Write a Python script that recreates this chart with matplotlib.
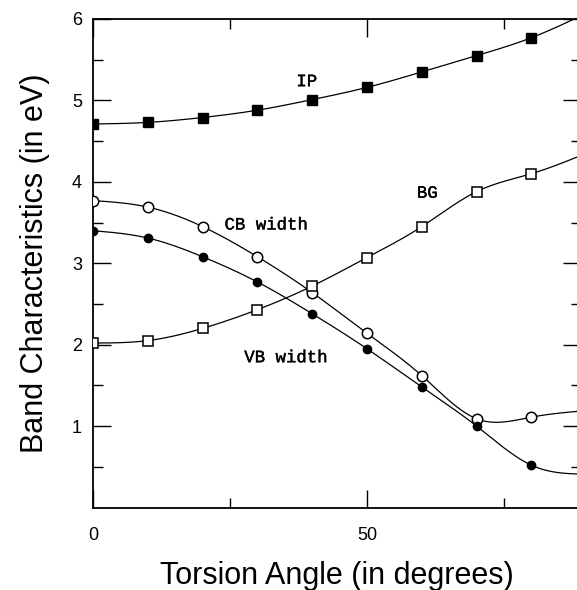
import matplotlib.pyplot as plt
import matplotlib.patheffects as pe
import numpy as np

# torsion angles (deg) and band characteristics (eV)
angle = [0, 10, 20, 30, 40, 50, 60, 70, 80, 90]
ip = [4.71, 4.73, 4.79, 4.88, 5.01, 5.16, 5.35, 5.55, 5.77, 6.07]
cb_width = [3.77, 3.69, 3.45, 3.08, 2.64, 2.14, 1.62, 1.09, 1.11, 1.19]
vb_width = [3.40, 3.31, 3.08, 2.77, 2.38, 1.95, 1.48, 1.00, 0.52, 0.41]
bg = [2.02, 2.05, 2.20, 2.43, 2.72, 3.07, 3.45, 3.88, 4.10, 4.35]


def spline(x, y, n=400):
    # natural cubic spline through the data points
    x = np.asarray(x, float)
    y = np.asarray(y, float)
    h = np.diff(x)
    m = len(x)
    A = np.zeros((m, m))
    r = np.zeros(m)
    A[0, 0] = A[-1, -1] = 1
    for i in range(1, m - 1):
        A[i, i - 1] = h[i - 1]
        A[i, i] = 2 * (h[i - 1] + h[i])
        A[i, i + 1] = h[i]
        r[i] = 6 * ((y[i + 1] - y[i]) / h[i] - (y[i] - y[i - 1]) / h[i - 1])
    M = np.linalg.solve(A, r)
    xs = np.linspace(x[0], x[-1], n)
    k = np.clip(np.searchsorted(x, xs) - 1, 0, m - 2)
    t0 = x[k + 1] - xs
    t1 = xs - x[k]
    hk = h[k]
    ys = (M[k] * t0**3 + M[k + 1] * t1**3) / (6 * hk) \
        + (y[k] / hk - M[k] * hk / 6) * t0 + (y[k + 1] / hk - M[k + 1] * hk / 6) * t1
    return xs, ys


fig = plt.figure(figsize=(5.77, 5.90), dpi=100)
ax = fig.add_axes([0.1612, 0.1398, 0.8452, 0.828])

series = [
    (ip, dict(marker='s', ms=6.5, mfc='black', mec='black')),
    (cb_width, dict(marker='o', ms=7.5, mfc='white', mec='black', mew=1.1)),
    (vb_width, dict(marker='o', ms=6, mfc='black', mec='black')),
    (bg, dict(marker='s', ms=7, mfc='white', mec='black', mew=1.1)),
]
for vals, style in series:
    xs, ys = spline(angle, vals)
    ax.plot(xs, ys, color='black', lw=0.9, zorder=2)
    ax.plot(angle, vals, ls='none', zorder=3, **style)

lab = dict(family='Liberation Mono', fontsize=12.5, color='black',
           path_effects=[pe.withStroke(linewidth=0.25, foreground='black')])
ax.text(39, 5.23, 'IP', ha='center', va='center', **lab)
ax.text(24, 3.47, 'CB width', ha='left', va='center', **lab)
ax.text(61, 3.86, 'BG', ha='center', va='center', **lab)
ax.text(27.6, 1.84, 'VB width', ha='left', va='center', **lab)

ax.set_xlim(0, 89)
ax.set_ylim(0, 6)
ax.set_xticks([0, 50])
ax.set_xticks([25, 75], minor=True)
ax.set_yticks([1, 2, 3, 4, 5, 6])
ax.set_yticks(np.arange(0.5, 6, 1.0), minor=True)
ax.tick_params(which='both', direction='in', top=True, right=True, width=1,
               labelsize=13, labelfontfamily='Liberation Sans')
ax.tick_params(which='major', length=13)
ax.tick_params(axis='x', which='major', pad=14)
ax.tick_params(axis='y', which='major', pad=8)
ax.tick_params(which='minor', length=7)
for s in ax.spines.values():
    s.set_linewidth(1.3)

ax.set_xlabel('Torsion Angle (in degrees)', fontsize=22, family='Liberation Sans', labelpad=12)
ax.set_ylabel('Band Characteristics (in eV)', fontsize=22, family='Liberation Sans', labelpad=16)

plt.savefig('out.png', dpi=100)
plt.close()
